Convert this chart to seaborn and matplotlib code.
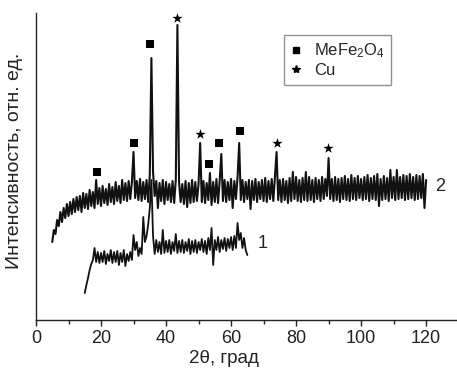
import numpy as np
import pandas as pd
import matplotlib
matplotlib.use("Agg")
import matplotlib.pyplot as plt
from matplotlib.lines import Line2D
import seaborn as sns

# ---- data ----
# Curve 2: 2theta from 5 to 120 deg, step 0.5
intensity_2 = [
    78, 90, 86, 100, 94, 108, 98, 112, 102, 116, 104, 118, 106, 121, 108, 123, 110, 124, 108, 127,
    112, 126, 111, 130, 114, 128, 112, 140, 116, 132, 114, 134, 117, 131, 115, 136, 118, 133, 116, 138,
    119, 134, 117, 140, 120, 137, 119, 139, 121, 138, 168, 122, 139, 120, 141, 119, 138, 121, 140, 118,
    145, 262, 148, 124, 139, 112, 137, 119, 140, 116, 138, 120, 136, 118, 139, 117, 140, 295, 138, 118,
    136, 116, 139, 113, 137, 117, 140, 118, 138, 119, 136, 177, 118, 139, 117, 137, 120, 147, 115, 138,
    118, 141, 117, 139, 166, 119, 140, 118, 138, 120, 141, 112, 139, 121, 143, 177, 120, 140, 118, 138,
    121, 140, 111, 139, 120, 141, 118, 138, 121, 140, 119, 142, 118, 139, 121, 141, 119, 143, 168, 120,
    140, 118, 141, 120, 139, 117, 142, 119, 148, 121, 143, 119, 140, 118, 142, 120, 148, 119, 143, 120,
    140, 118, 142, 121, 140, 119, 143, 121, 141, 124, 162, 121, 141, 119, 143, 120, 141, 118, 142, 121,
    144, 120, 141, 119, 145, 121, 142, 120, 144, 122, 141, 120, 143, 121, 145, 119, 142, 121, 144, 120,
    146, 114, 141, 120, 144, 121, 142, 119, 150, 122, 143, 120, 150, 121, 143, 122, 145, 120, 144, 121,
    146, 122, 143, 120, 145, 121, 144, 122, 146, 112, 140,
]
two_theta_2_start, two_theta_2_step = 5.0, 0.5

# Curve 1: 2theta from 15 to 65 deg, step 0.5
intensity_1 = [
    27, 35, 42, 50, 56, 60, 72, 58, 68, 57, 67, 58, 69, 56, 66, 59, 70, 57, 68, 58,
    69, 55, 67, 58, 70, 54, 66, 59, 68, 60, 85, 70, 78, 64, 72, 66, 103, 78, 84, 95,
    112, 140, 84, 66, 80, 68, 78, 66, 90, 67, 79, 68, 80, 66, 78, 69, 86, 67, 79, 68,
    80, 67, 78, 69, 81, 66, 79, 68, 80, 67, 78, 70, 81, 68, 79, 66, 82, 70, 92, 55,
    80, 70, 83, 68, 80, 71, 82, 69, 81, 72, 83, 70, 84, 72, 97, 80, 87, 72, 82, 70,
    65,
]
two_theta_1_start, two_theta_1_step = 15.0, 0.5

# Phase markers above peaks
ferrite_x = [18.7, 30.0, 35.1, 53.3, 56.4, 62.8]
ferrite_y = [148, 177, 276, 156, 177, 189]
cu_x = [43.3, 50.5, 74.1, 89.8]
cu_y = [302, 186, 177, 172]

legend_labels = ["MeFe$_2$O$_4$", "Cu"]
curve_labels = ["1", "2"]
x_ticks = [0, 20, 40, 60, 80, 100, 120]

# ---- build frames ----
tt2 = two_theta_2_start + two_theta_2_step * np.arange(len(intensity_2))
tt1 = two_theta_1_start + two_theta_1_step * np.arange(len(intensity_1))
df2 = pd.DataFrame({"tt": tt2, "I": intensity_2})
df1 = pd.DataFrame({"tt": tt1, "I": intensity_1})
df_fe = pd.DataFrame({"tt": ferrite_x, "I": ferrite_y})
df_cu = pd.DataFrame({"tt": cu_x, "I": cu_y})

sns.set_theme(style="ticks")
plt.rcParams["font.family"] = ["Liberation Sans", "DejaVu Sans"]
plt.rcParams["mathtext.fontset"] = "custom"
plt.rcParams["mathtext.rm"] = "Liberation Sans"
plt.rcParams["mathtext.it"] = "Liberation Sans"

fig = plt.figure(figsize=(4.57, 3.69), dpi=100)
ax = fig.add_axes([36 / 457, 49 / 369, 421 / 457, 307 / 369])

sns.lineplot(data=df2, x="tt", y="I", ax=ax, color="#111111", linewidth=1.5,
             estimator=None, sort=False)
sns.lineplot(data=df1, x="tt", y="I", ax=ax, color="#111111", linewidth=1.3,
             estimator=None, sort=False)
sns.scatterplot(data=df_fe, x="tt", y="I", ax=ax, marker="s", s=36,
                color="black", linewidth=0)
sns.scatterplot(data=df_cu, x="tt", y="I", ax=ax, marker="*", s=60,
                color="black", linewidth=0)

ax.text(68.3, 77, curve_labels[0], fontsize=13, va="center", ha="left")
ax.text(122.8, 134, curve_labels[1], fontsize=13, va="center", ha="left")

ax.set_xlim(0, 129.5)
ax.set_ylim(0, 307)
ax.set_xticks(x_ticks)
ax.set_xticks(np.arange(10, 130, 20), minor=True)
ax.set_yticks([])
ax.tick_params(axis="x", which="major", direction="out", length=4, width=1,
               labelsize=13, pad=3, color="#222222", labelcolor="#222222")
ax.tick_params(axis="x", which="minor", direction="out", length=3, width=1,
               color="#222222")
for side in ["top", "right"]:
    ax.spines[side].set_visible(False)
for side in ["left", "bottom"]:
    ax.spines[side].set_linewidth(1.0)
    ax.spines[side].set_color("#222222")

ax.set_xlabel("2θ, град", fontsize=13.5, color="#222222")
ax.xaxis.set_label_coords((224 - 36) / 421, -0.098)
ax.set_ylabel("Интенсивность, отн. ед.", fontsize=14, color="#222222")
ax.yaxis.set_label_coords(-0.032, 0.52)

handles = [
    Line2D([], [], marker="s", linestyle="none", color="black", markersize=5),
    Line2D([], [], marker="*", linestyle="none", color="black", markersize=6),
]
leg = ax.legend(handles, legend_labels, loc="upper left",
                bbox_to_anchor=((284 - 36) / 421, (320 - 35) / 307),
                borderaxespad=0, fontsize=12, frameon=True, fancybox=False,
                handlelength=0.6, handletextpad=0.8, labelspacing=0.15,
                borderpad=0.4)
leg.get_frame().set_edgecolor("#777777")
leg.get_frame().set_linewidth(1.0)

fig.savefig("out.png", dpi=100)
